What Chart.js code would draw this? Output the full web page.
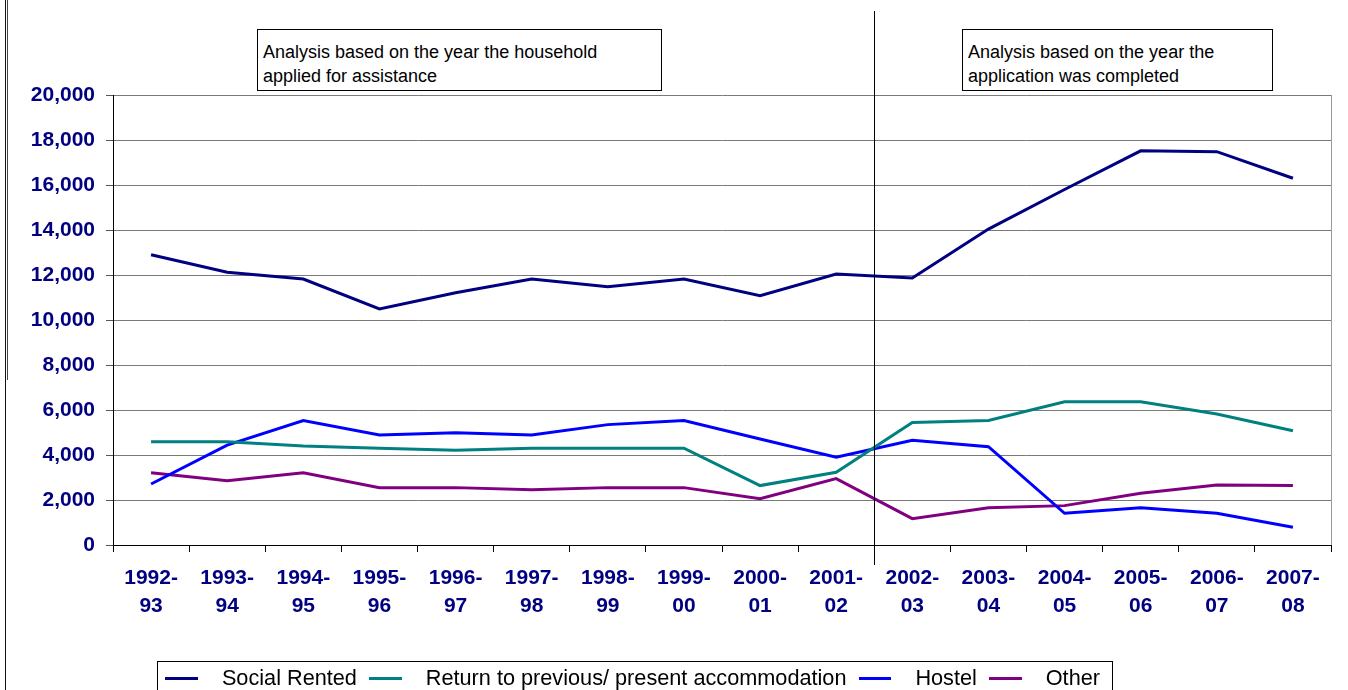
<!DOCTYPE html>
<html>
<head>
<meta charset="utf-8">
<script src="https://cdn.jsdelivr.net/npm/chart.js@4.4.1/dist/chart.umd.min.js"></script>
<style>
  html, body { margin: 0; padding: 0; background: #fff; }
  body { width: 1348px; height: 690px; position: relative; overflow: hidden; font-family: Arial, "Liberation Sans", sans-serif; }
  #wrap { position: absolute; left: 0; top: 0; width: 1348px; height: 690px; }
  .nota { position: absolute; top: 29px; height: 62px; border: 1px solid #000; background: #fff;
          font-size: 18px; line-height: 24px; padding: 10px 0 0 5px; box-sizing: border-box; color: #000; }
  #legenda { position: absolute; left: 157px; top: 661px; width: 956px; height: 40px; border: 1px solid #000;
             box-sizing: border-box; display: flex; align-items: flex-start; padding: 4px 0 0 7px;
             font-size: 21.7px; line-height: 24px; color: #000; }
  #legenda .amostra { width: 36px; height: 3px; margin-top: 11px; margin-right: 24px; }
  #legenda .rotulo { margin-right: 12px; white-space: nowrap; }
</style>
</head>
<body>
<div id="wrap"><canvas id="grafico" width="1348" height="690"></canvas></div>
<div class="nota" style="left:257px;width:405px;">Analysis based on the year the household<br>applied for assistance</div>
<div class="nota" style="left:962px;width:311px;">Analysis based on the year the<br>application was completed</div>
<div id="legenda"></div>
<script>
const ANOS = ['1992-93', '1993-94', '1994-95', '1995-96', '1996-97', '1997-98', '1998-99', '1999-00',
  '2000-01', '2001-02', '2002-03', '2003-04', '2004-05', '2005-06', '2006-07', '2007-08'];
const SOCIAL_RENTED = [12900, 12120, 11820, 10490, 11210, 11820, 11480, 11820, 11080, 12040, 11870, 14040, 15800, 17520, 17480, 16300];
const RETURN_PREV = [4590, 4590, 4400, 4300, 4210, 4300, 4300, 4300, 2640, 3230, 5440, 5530, 6370, 6370, 5820, 5080];
const HOSTEL = [2710, 4440, 5530, 4890, 4990, 4890, 5350, 5530, 4710, 3900, 4650, 4370, 1410, 1660, 1410, 790];
const OTHER = [3210, 2860, 3210, 2550, 2550, 2460, 2550, 2550, 2060, 2950, 1170, 1660, 1750, 2300, 2670, 2640];
const Y_MAX = 20000;
const Y_PASSO = 2000;

const CORES = { navy: '#000080', teal: '#008080', azul: '#0000ff', roxo: '#800080' };
const FONTE = 'Arial, "Liberation Sans", sans-serif';

const series = [
  { label: 'Social Rented', data: SOCIAL_RENTED, cor: CORES.navy },
  { label: 'Return to previous/ present accommodation', data: RETURN_PREV, cor: CORES.teal },
  { label: 'Hostel', data: HOSTEL, cor: CORES.azul },
  { label: 'Other', data: OTHER, cor: CORES.roxo }
];

// extra lines: page border, divider between periods, right edge of plot
const linhasExtras = {
  id: 'linhasExtras',
  afterDraw(chart) {
    const ctx = chart.ctx, a = chart.chartArea, x = chart.scales.x;
    ctx.save();
    ctx.strokeStyle = '#111';
    ctx.lineWidth = 1;
    ctx.beginPath(); ctx.moveTo(5.5, 0); ctx.lineTo(5.5, 690); ctx.stroke();
    ctx.strokeStyle = '#444';
    ctx.beginPath(); ctx.moveTo(7.5, 0); ctx.lineTo(7.5, 380); ctx.stroke();
    // divider between 2001-02 and 2002-03
    const xd = Math.round((x.getPixelForValue(9) + x.getPixelForValue(10)) / 2) + 0.5;
    ctx.strokeStyle = '#000';
    ctx.beginPath(); ctx.moveTo(xd, 11); ctx.lineTo(xd, 565); ctx.stroke();
    ctx.strokeStyle = '#999';
    ctx.beginPath(); ctx.moveTo(Math.round(a.right) + 0.5, a.top); ctx.lineTo(Math.round(a.right) + 0.5, a.bottom); ctx.stroke();
    ctx.restore();
  }
};

new Chart(document.getElementById('grafico'), {
  type: 'line',
  data: {
    labels: ANOS.map(a => [a.slice(0, 5), a.slice(5)]),
    datasets: series.map(s => ({
      label: s.label, data: s.data, borderColor: s.cor, backgroundColor: s.cor,
      borderWidth: 3, pointRadius: 0, tension: 0, fill: false
    }))
  },
  options: {
    responsive: false, animation: false,
    layout: { padding: { top: 95, right: 17, bottom: 0, left: 0 } },
    plugins: { legend: { display: false }, tooltip: { enabled: false } },
    scales: {
      x: {
        offset: true,
        afterFit: s => { s.height = 145; },
        grid: { offset: true, drawOnChartArea: false, drawTicks: true, tickLength: 7, tickColor: '#000' },
        border: { color: '#000', width: 1 },
        ticks: { color: CORES.navy, padding: 13, maxRotation: 0, autoSkip: false,
          font: { family: FONTE, size: 21, weight: 'bold', lineHeight: 1.3 } }
      },
      y: {
        min: 0, max: Y_MAX,
        afterFit: s => { s.width = 113; },
        grid: { color: '#7a7a7a', lineWidth: 1, tickLength: 7, tickColor: '#555' },
        border: { color: '#000', width: 1 },
        ticks: { stepSize: Y_PASSO, color: CORES.navy, padding: 11,
          callback: v => v.toLocaleString('en-US'),
          font: { family: FONTE, size: 21, weight: 'bold' } }
      }
    }
  },
  plugins: [linhasExtras]
});

const legenda = document.getElementById('legenda');
for (const s of series) {
  const am = document.createElement('span');
  am.className = 'amostra';
  am.style.background = s.cor;
  const tx = document.createElement('span');
  tx.className = 'rotulo';
  tx.textContent = s.label;
  legenda.appendChild(am);
  legenda.appendChild(tx);
}
</script>
</body>
</html>
